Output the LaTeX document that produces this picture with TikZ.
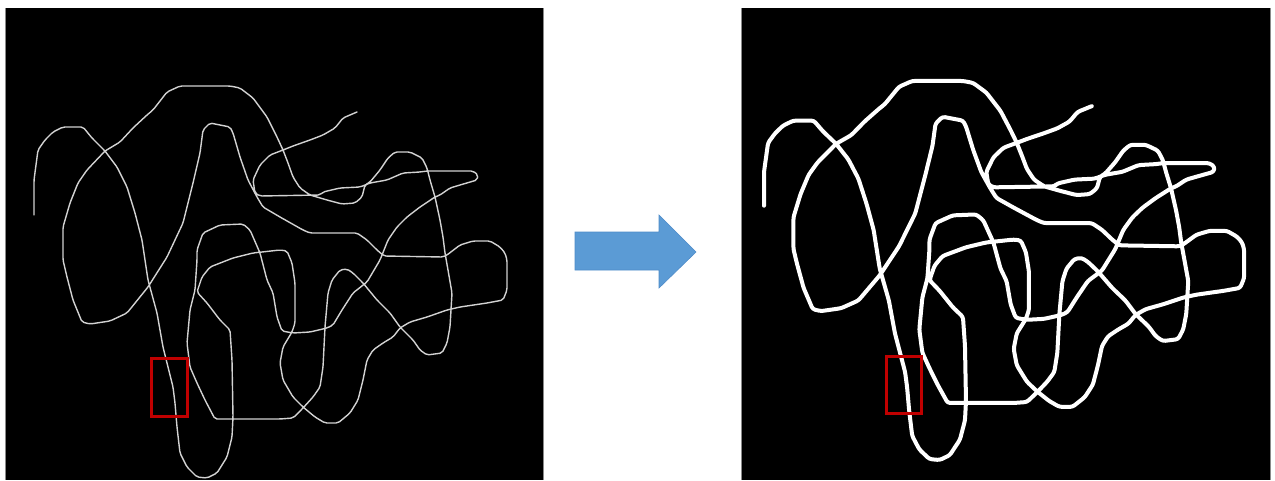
\documentclass[tikz,border=0pt]{standalone}
\usepackage{xcolor}
\definecolor{arrowblue}{HTML}{5B9BD5}
\definecolor{arrowedge}{HTML}{4F8CC9}
\definecolor{boxred}{HTML}{C00000}
\definecolor{thinline}{HTML}{D2D2D2}
\definecolor{edgegray}{HTML}{8A8A8A}
\newcommand\tanglepath{(34,215) -- (34,180) -- (38,150) -- (45,140) -- (53,132) -- (63,127) -- (83,127) -- (92,138) -- (105,151) -- (117,167) -- (127,187) -- (135,213) -- (142,240) -- (148,280) -- (157,313) -- (163,347) -- (173,387) -- (175,403) -- (177,427) -- (180,453) -- (187,467) -- (197,477) -- (207,478) -- (217,473) -- (227,457) -- (232,437) -- (233,417) -- (232,360) -- (230,330) -- (220,320) -- (207,303) -- (197,292) -- (202,277) -- (210,267) -- (233,258) -- (253,253) -- (280,250) -- (287,251) -- (292,263) -- (295,283) -- (295,323) -- (292,332) -- (283,347) -- (280,363) -- (283,380) -- (293,397) -- (303,407) -- (315,417) -- (325,423) -- (338,423) -- (350,413) -- (358,400) -- (363,380) -- (367,360) -- (373,350) -- (383,343) -- (393,337) -- (400,328) -- (410,322) -- (427,317) -- (447,310) -- (460,307) -- (487,303) -- (503,300) -- (507,290) -- (507,260) -- (505,253) -- (500,247) -- (490,241) -- (473,241) -- (460,245) -- (447,255) -- (443,257) -- (384,256) -- (377,250) -- (367,240) -- (357,233) -- (310,233) -- (303,230) -- (280,217) -- (263,207) -- (257,197) -- (248,180) -- (240,157) -- (233,133) -- (230,127) -- (210,123) -- (203,130) -- (200,153) -- (193,183) -- (183,223) -- (167,257) -- (148,287) -- (127,313) -- (110,321) -- (90,324) -- (82,322) -- (73,300) -- (67,277) -- (63,260) -- (63,227) -- (70,203) -- (78,183) -- (87,170) -- (105,151) -- (120,142) -- (133,128) -- (147,115) -- (153,110) -- (167,92) -- (180,86) -- (230,86) -- (240,88) -- (253,98) -- (267,117) -- (277,137) -- (283,150) -- (288,163) -- (293,177) -- (300,188) -- (310,195) -- (327,200) -- (342,204) -- (355,203) -- (362,197) -- (365,185) -- (370,182) -- (380,170) -- (388,158) -- (395,152) -- (410,152) -- (422,158) -- (427,168) -- (430,180) -- (435,197) -- (440,220) -- (443,237) -- (445,253) -- (448,270) -- (452,293) -- (450,327) -- (447,343) -- (442,353) -- (427,355) -- (420,350) -- (413,340) -- (400,327) -- (390,313) -- (377,300) -- (363,283) -- (353,273) -- (347,269) -- (340,270) -- (332,280) -- (328,293) -- (325,327) -- (323,367) -- (320,387) -- (313,397) -- (303,408) -- (293,418) -- (280,419) -- (215,419) -- (205,400) -- (197,383) -- (190,367) -- (187,343) -- (190,310) -- (195,290) -- (197,260) -- (197,250) -- (203,233) -- (220,225) -- (243,224) -- (250,230) -- (260,253) -- (267,280) -- (273,293) -- (277,317) -- (282,331) -- (293,333) -- (310,332) -- (327,328) -- (333,325) -- (342,310) -- (353,293) -- (367,282) -- (380,260) -- (388,240) -- (397,227) -- (407,217) -- (420,207) -- (435,197) -- (440,195) -- (450,188) -- (460,185) -- (477,180) -- (478,175) -- (473,171) -- (427,171) -- (420,172) -- (403,173) -- (387,180) -- (370,183) -- (360,187) -- (340,188) -- (323,192) -- (320,195) -- (260,196) -- (255,193) -- (253,180) -- (260,165) -- (270,155) -- (283,150) -- (293,146) -- (310,140) -- (323,135) -- (335,128) -- (343,118) -- (357,112)}
\tikzset{
  panel/.style={fill=black, draw=none},
  paneledge/.style={draw=edgegray, line width=1pt},
  thincurve/.style={draw=thinline, line width=1.4pt, rounded corners=2pt, line join=round, line cap=round},
  thickcurve/.style={draw=white, line width=4pt, rounded corners=2.5pt, line join=round, line cap=round},
  redbox/.style={draw=boxred, line width=3pt},
  bigarrow/.style={fill=arrowblue, draw=arrowedge, line width=0.6pt}
}
\begin{document}
\begin{tikzpicture}[x=1pt, y=-1pt]
\useasboundingbox (0,0) rectangle (1275,480);
\fill[white] (0,0) rectangle (1275,480);
% left panel
\path[panel] (5.5,8) rectangle (543,480);
\draw[paneledge] (5.5,8) -- (5.5,480);
\draw[paneledge] (543,8) -- (543,480);
\draw[thincurve] \tanglepath;
\draw[redbox] (151,358) rectangle (187,416);
% arrow
\draw[bigarrow] (575,232) -- (659,232) -- (659,215) -- (696,252) -- (659,288) -- (659,270) -- (575,270) -- cycle;
% right panel
\path[panel] (741.5,8) rectangle (1270.5,480);
\draw[paneledge] (741.5,8) -- (741.5,480);
\draw[paneledge] (1270.5,8) -- (1270.5,480);
\begin{scope}[shift={(729.5,-2.2)}, xscale=1.015, yscale=0.967]
\draw[thickcurve] \tanglepath;
\end{scope}
\draw[redbox] (886,356) rectangle (921,413);
\end{tikzpicture}
\end{document}
